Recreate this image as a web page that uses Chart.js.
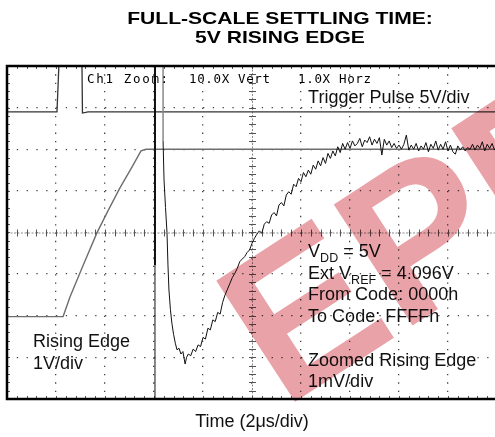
<!DOCTYPE html>
<html><head><meta charset="utf-8">
<script src="https://cdn.jsdelivr.net/npm/chart.js@4.4.1/dist/chart.umd.min.js"></script>
<style>
html,body{margin:0;padding:0;background:#fff;overflow:hidden;}
#wrap{position:absolute;left:0;top:0;width:500px;height:437px;}
</style>
</head><body><div id="wrap"><canvas id="c"></canvas></div>
<script>
// ---- text ----
const titleLines = ['FULL-SCALE SETTLING TIME:', '5V RISING EDGE'];
const xAxisTitle = 'Time (2\u03bcs/div)';
const scopeHeader = ['Ch1 Zoom:', '10.0X Vert', '1.0X Horz'];
const triggerLabel = 'Trigger Pulse 5V/div';
const risingLabel = ['Rising Edge', '1V/div'];
const noteLines = [
  [['V',0],['DD',1],[' = 5V',0]],
  [['Ext V',0],['REF',1],[' = 4.096V',0]],
  [['From Code: 0000h',0]],
  [['To Code: FFFFh',0]],
  [],
  [['Zoomed Rising Edge',0]],
  [['1mV/div',0]]
];
const watermarkText = 'EPR';

// ---- axes (time in us, 2 us/div; vertical in screen divisions) ----
const timeTicks = [0,2,4,6,8,10,12,14,16,18,20];
const divTicks = [-4,-3,-2,-1,0,1,2,3,4];

// ---- trigger pulse (5V/div) ----
const trigT = [0, 2.04, 2.12, 3.06, 3.08, 3.31, 20];
const trigV = [2.9, 2.9, 4.05, 4.05, 2.87, 2.9, 2.9];

// ---- rising edge (1V/div) ----
const riseT = [0, 2.29, 2.57, 3.10, 3.67, 4.12, 4.61, 5.10, 5.47, 5.67, 20];
const riseV = [-2.02, -2.02, -1.55, -0.80, -0.01, 0.52, 1.07, 1.57, 1.96, 2.0, 2.0];

// ---- marker / edge lines ----
const markT = [6.04, 6.04];
const markV = [-4.05, 4.05];
const markThickT = [6.04, 6.04];
const markThickV = [4.05, -0.78];
const clipT = [6.37, 6.37];
const clipV = [4.05, 2.2];

// ---- zoomed rising edge (1mV/div) ----
const zoomT = [6.37,6.41,6.47,6.53,6.57,6.61,6.67,6.73,6.80,6.87,6.94,7.02,7.10,7.18,7.27,7.33,
7.4,7.5,7.6,7.7,7.8,7.9,8.0,8.1,8.2,8.3,8.4,8.5,8.6,8.7,8.8,8.9,9.0,9.1,9.2,9.3,9.4,9.5,9.6,9.7,9.8,9.9,
10.0,10.1,10.2,10.3,10.4,10.5,10.6,10.7,10.8,10.9,11.0,11.1,11.2,11.3,11.4,11.5,11.6,11.7,11.8,11.9,
12.0,12.1,12.2,12.3,12.4,12.5,12.6,12.7,12.8,12.9,13.0,13.1,13.2,13.3,13.4,13.5,13.6,13.7,13.8,13.9,
14.0,14.1,14.2,14.3,14.4,14.5,14.6,14.7,14.8,14.9,15.0,15.1,15.2,15.3,15.4,15.5,15.6,15.7,15.8,15.9,
16.0,16.1,16.2,16.3,16.4,16.5,16.6,16.7,16.8,16.9,17.0,17.1,17.2,17.3,17.4,17.5,17.6,17.7,17.8,17.9,
18.0,18.1,18.2,18.3,18.4,18.5,18.6,18.7,18.8,18.9,19.0,19.1,19.2,19.3,19.4,19.5,19.6,19.7,19.8,19.9,20.0];
const zoomV = [2.2,1.26,0.6,0.0,-0.78,-1.38,-1.85,-2.18,-2.45,-2.66,-2.82,-2.78,-2.92,-2.86,-3.16,-3.0,
-2.92,-2.96,-2.80,-2.86,-2.70,-2.74,-2.52,-2.56,-2.30,-2.34,-2.10,-2.14,-1.92,-1.96,-1.68,-1.50,-1.36,-1.22,-1.08,-0.98,-0.86,-0.70,-0.64,-0.58,-0.48,-0.42,
-0.26,-0.14,-0.04,0.04,-0.02,0.20,0.26,0.22,0.42,0.48,0.40,0.66,0.72,0.64,0.90,0.98,0.92,1.16,1.10,1.30,
1.22,1.44,1.34,1.50,1.40,1.62,1.52,1.72,1.60,1.80,1.66,1.90,1.78,1.96,1.84,2.06,1.92,2.14,2.00,2.16,
2.02,2.20,2.08,2.14,2.26,2.06,2.22,2.16,2.30,2.10,2.24,2.14,2.28,1.86,2.24,2.10,2.20,2.04,2.14,2.02,
2.10,2.00,2.12,2.34,1.98,2.10,2.00,2.14,1.96,2.08,2.00,2.16,1.94,2.12,2.02,2.20,1.98,2.12,2.00,2.18,
1.96,2.10,1.94,1.88,2.08,1.98,2.06,1.96,2.04,2.00,2.12,1.98,2.10,2.02,2.18,1.96,2.12,2.02,2.14,1.98,2.06];

const pts = (T, V) => T.map((t, i) => ({x: t, y: V[i]}));

const scopePlugin = {
  id: 'scope',
  beforeDatasetsDraw(chart) {
    const {ctx, chartArea: a, scales: {x, y}} = chart;
    ctx.save();
    const x0 = x.getPixelForValue(10), y0 = y.getPixelForValue(0);
    ctx.strokeStyle = '#8a8a8a'; ctx.lineWidth = 1;
    ctx.setLineDash([2, 1.5]);
    ctx.beginPath();
    ctx.moveTo(a.left, y0 + 0.5); ctx.lineTo(a.right, y0 + 0.5);
    ctx.moveTo(x0 + 0.5, a.top); ctx.lineTo(x0 + 0.5, a.bottom);
    ctx.stroke();
    ctx.setLineDash([]);
    ctx.strokeStyle = '#555';
    ctx.beginPath();
    for (let t = 0; t <= 20.001; t += 0.4) {
      const px = Math.round(x.getPixelForValue(t)) + 0.5;
      ctx.moveTo(px, y0 - 3); ctx.lineTo(px, y0 + 4);
      ctx.moveTo(px, a.top); ctx.lineTo(px, a.top + 3);
      ctx.moveTo(px, a.bottom); ctx.lineTo(px, a.bottom - 3);
    }
    for (let v = -4; v <= 4.001; v += 0.2) {
      const py = Math.round(y.getPixelForValue(v)) + 0.5;
      ctx.moveTo(x0 - 3, py); ctx.lineTo(x0 + 4, py);
      ctx.moveTo(a.left, py); ctx.lineTo(a.left + 3, py);
    }
    ctx.stroke();
    ctx.restore();
  },
  afterDatasetsDraw(chart) {
    const {ctx, chartArea: a, scales: {x, y}} = chart;
    const X = v => x.getPixelForValue(v), Y = v => y.getPixelForValue(v);
    ctx.save();
    ctx.fillStyle = '#000';
    ctx.font = '12.5px "DejaVu Sans Mono"';
    ctx.textBaseline = 'alphabetic';
    const hdr = [[3.27, 81], [7.43, 81], [11.88, 73]];
    scopeHeader.forEach((s, i) => {
      ctx.letterSpacing = '0px';
      const w = ctx.measureText(s).width;
      ctx.letterSpacing = ((hdr[i][1] - w) / (s.length - 1)).toFixed(2) + 'px';
      ctx.fillText(s, X(hdr[i][0]), Y(3.59));
    });
    ctx.letterSpacing = '0px';
    ctx.fillStyle = '#111';
    ctx.font = '18px "Liberation Sans", Arial, sans-serif';
    ctx.fillText(triggerLabel, X(12.29), Y(3.11));
    ctx.fillText(risingLabel[0], X(1.06), Y(-2.75));
    ctx.fillText(risingLabel[1], X(1.06), Y(-3.27));
    noteLines.forEach((runs, i) => {
      let px = X(12.29);
      const py = Y(-0.59) + i * 21.7;
      runs.forEach(([txt, sub]) => {
        ctx.font = sub ? '12.5px "Liberation Sans", Arial, sans-serif' : '18px "Liberation Sans", Arial, sans-serif';
        ctx.fillText(txt, px, py + (sub ? 5 : 0));
        px += ctx.measureText(txt).width;
      });
    });
    // watermark (multiply)
    ctx.globalCompositeOperation = 'multiply';
    ctx.translate(X(8.49), Y(-1.02));
    ctx.rotate(-33 * Math.PI / 180);
    ctx.font = 'bold 210px "Liberation Sans", Arial, sans-serif';
    ctx.fillStyle = '#e9a2a7';
    ctx.fillText(watermarkText, -16, 150);
    ctx.restore();
    ctx.save();
    ctx.strokeStyle = '#000';
    ctx.lineWidth = 2.5;
    ctx.strokeRect(a.left, a.top, a.right - a.left, a.bottom - a.top);
    ctx.restore();
  },
  afterDraw(chart) {
    const {ctx} = chart;
    ctx.save();
    ctx.fillStyle = '#000';
    ctx.font = 'bold 17px "Liberation Sans", Arial, sans-serif';
    ctx.textAlign = 'center';
    ctx.textBaseline = 'alphabetic';
    const base = [24.2, 42.6];
    titleLines.forEach((s, i) => {
      ctx.save();
      ctx.translate(280, base[i]);
      ctx.scale(1.24, 1);
      ctx.fillText(s, 0, 0);
      ctx.restore();
    });
    ctx.restore();
  }
};

const W = 490, H = 333;
new Chart(document.getElementById('c'), {
  type: 'scatter',
  data: {
    datasets: [
      {label: 'Zoomed Rising Edge', data: pts(zoomT, zoomV), showLine: true, borderColor: '#111', borderWidth: 1, pointRadius: 0, order: 1},
      {label: 'Clip', data: pts(clipT, clipV), showLine: true, borderColor: '#8a8a8a', borderWidth: 1.5, pointRadius: 0, order: 0},
      {label: 'Marker', data: pts(markT, markV), showLine: true, borderColor: '#111', borderWidth: 1, pointRadius: 0, order: 2},
      {label: 'Marker thick', data: pts(markThickT, markThickV), showLine: true, borderColor: '#111', borderWidth: 2, pointRadius: 0, order: 2},
      {label: 'Rising Edge', data: pts(riseT, riseV), showLine: true, borderColor: '#6e6e6e', borderWidth: 1.4, pointRadius: 0, order: 3},
      {label: 'Trigger Pulse', data: pts(trigT, trigV), showLine: true, borderColor: '#333', borderWidth: 1.3, pointRadius: 0, order: 4}
    ]
  },
  options: {
    responsive: true, maintainAspectRatio: false, animation: false,
    layout: {padding: {left: 7, right: 3, top: 66, bottom: 4}},
    plugins: {legend: {display: false}, tooltip: {enabled: false}, title: {display: false}},
    scales: {
      x: {
        type: 'linear', min: timeTicks[0], max: timeTicks[timeTicks.length - 1],
        afterBuildTicks: s => { s.ticks = timeTicks.map(v => ({value: v})); },
        ticks: {display: false},
        grid: {color: '#444', lineWidth: 1.3, drawTicks: false},
        border: {display: false, dash: [1.3, H / 40 - 1.3]},
        title: {display: true, text: xAxisTitle, color: '#111', font: {family: '"Liberation Sans", Arial, sans-serif', size: 18}, padding: {top: 12.4, bottom: 0}}
      },
      y: {
        type: 'linear', min: divTicks[0], max: divTicks[divTicks.length - 1],
        afterBuildTicks: s => { s.ticks = divTicks.map(v => ({value: v})); },
        ticks: {display: false},
        grid: {color: '#444', lineWidth: 1.3, drawTicks: false},
        border: {display: false, dash: [1.3, W / 50 - 1.3]}
      }
    }
  },
  plugins: [scopePlugin]
});
</script>
</body></html>
